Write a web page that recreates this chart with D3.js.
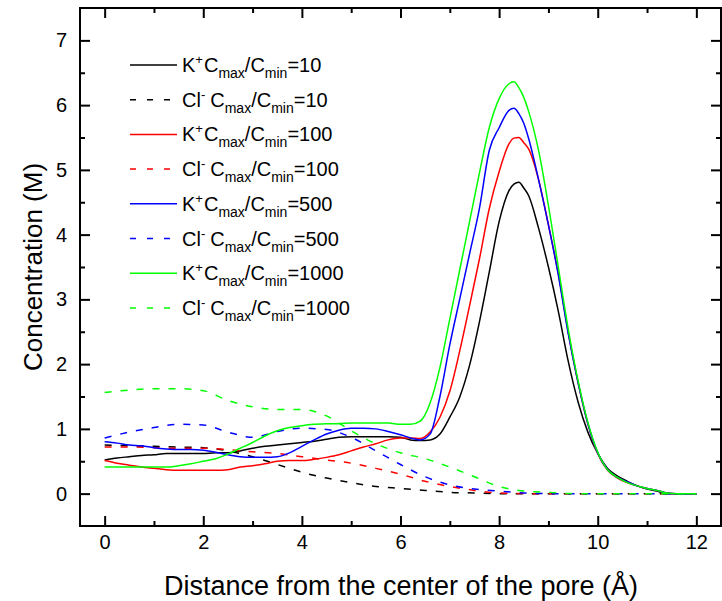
<!DOCTYPE html>
<html><head><meta charset="utf-8">
<script src="https://cdn.jsdelivr.net/npm/d3@7"></script>
<style>body{margin:0;background:#fff} svg{font-family:"Liberation Sans",Arial,sans-serif;display:block}</style>
</head><body><svg id="c" width="722" height="601"></svg>
<script>
// ---- data ----
const xK = [0,0.25,0.5,0.75,1,1.25,1.5,1.75,2,2.25,2.5,2.75,3,3.25,3.5,3.75,4,4.25,4.5,4.75,5,5.25,5.5,5.75,6,6.2,6.4,6.6,6.8,7.0,7.2,7.4,7.6,7.8,8.0,8.2,8.3,8.4,8.5,8.6,8.8,9.0,9.2,9.4,9.6,9.8,10.0,10.2,10.4,10.6,10.8,11.0,11.2,11.4,11.6,11.8,12.0];
const yK10 = [0.52,0.55,0.57,0.59,0.60,0.62,0.62,0.62,0.62,0.63,0.63,0.66,0.70,0.73,0.75,0.77,0.79,0.81,0.84,0.87,0.88,0.88,0.88,0.88,0.87,0.83,0.82,0.83,0.92,1.18,1.49,1.98,2.65,3.42,4.20,4.68,4.78,4.81,4.72,4.60,4.10,3.50,2.82,2.05,1.42,0.95,0.62,0.39,0.27,0.19,0.12,0.07,0.04,0.00,0,0,0];
const yK100 = [0.51,0.47,0.44,0.41,0.39,0.37,0.36,0.36,0.36,0.36,0.37,0.41,0.43,0.46,0.50,0.51,0.51,0.53,0.56,0.60,0.66,0.72,0.77,0.83,0.86,0.86,0.85,0.95,1.18,1.58,2.20,2.90,3.62,4.40,4.97,5.40,5.49,5.50,5.42,5.32,4.85,4.15,3.40,2.50,1.72,1.08,0.62,0.36,0.24,0.17,0.12,0.08,0.05,0.01,0,0,0];
const yK500 = [0.80,0.78,0.75,0.74,0.71,0.69,0.68,0.68,0.67,0.64,0.60,0.57,0.56,0.56,0.57,0.63,0.73,0.83,0.92,0.98,1.01,1.01,1.00,0.96,0.91,0.86,0.83,0.92,1.50,2.30,3.00,3.70,4.40,5.30,5.65,5.92,5.95,5.87,5.72,5.48,4.85,4.15,3.38,2.48,1.72,1.08,0.63,0.37,0.25,0.18,0.12,0.08,0.05,0.01,0,0,0];
const yK1000 = [0.41,0.41,0.41,0.41,0.41,0.41,0.43,0.46,0.50,0.54,0.61,0.70,0.79,0.89,0.97,1.02,1.05,1.07,1.08,1.08,1.09,1.09,1.09,1.09,1.07,1.07,1.12,1.40,1.95,2.70,3.45,4.20,4.95,5.65,6.10,6.33,6.36,6.27,6.12,5.90,5.30,4.45,3.50,2.55,1.75,1.10,0.64,0.37,0.25,0.17,0.12,0.08,0.05,0.01,0,0,0];

const xCl = [0,0.5,1,1.5,2,2.5,3,3.5,4,4.5,5,5.5,6,6.5,7,7.5,8,8.5,9,9.5,10,10.5,11,11.5,12];
const yCl10 = [0.75,0.74,0.73,0.72,0.71,0.66,0.57,0.45,0.33,0.24,0.17,0.11,0.08,0.05,0.02,0.01,0,0,0,0,0,0,0,0,0];
const yCl100 = [0.72,0.72,0.71,0.70,0.70,0.68,0.645,0.62,0.57,0.52,0.47,0.39,0.30,0.19,0.11,0.05,0.01,0,0,0,0,0,0,0,0];
const yCl500 = [0.86,0.95,1.02,1.07,1.06,0.95,0.87,0.96,1.01,0.99,0.87,0.66,0.45,0.26,0.135,0.07,0.04,0.01,0,0,0,0,0,0,0];
const yCl1000 = [1.56,1.60,1.62,1.62,1.59,1.44,1.34,1.30,1.30,1.20,0.97,0.77,0.63,0.54,0.41,0.26,0.11,0.04,0.02,0,0,0,0,0,0];

const seriesNames = ["K10","Cl10","K100","Cl100","K500","Cl500","K1000","Cl1000"];
const ratios = ["10","10","100","100","500","500","1000","1000"];
const ions = ["K","Cl","K","Cl","K","Cl","K","Cl"];
const colors = ["#000000","#000000","#ff0000","#ff0000","#0000ff","#0000ff","#00ff00","#00ff00"];
const xTicks = [0,2,4,6,8,10,12];
const yTicks = [0,1,2,3,4,5,6,7];

// ---- chart ----
const svg = d3.select("#c");
const L=80,R=721,T=8,B=526;
const x = d3.scaleLinear().domain([-0.5,12.5]).range([L,R]);
const y = d3.scaleLinear().domain([-0.5,7.5]).range([B,T]);

svg.append("defs").append("clipPath").attr("id","clip")
  .append("rect").attr("x",L).attr("y",T).attr("width",R-L).attr("height",B-T);

const data = [
  {x:xK,y:yK10},{x:xCl,y:yCl10},{x:xK,y:yK100},{x:xCl,y:yCl100},
  {x:xK,y:yK500},{x:xCl,y:yCl500},{x:xK,y:yK1000},{x:xCl,y:yCl1000}
];
const lineSm = d3.line().x(d=>x(d[0])).y(d=>y(d[1])).curve(d3.curveMonotoneX);
const g = svg.append("g").attr("clip-path","url(#clip)");
data.forEach((s,i)=>{
  const pts = s.x.map((v,j)=>[v,s.y[j]]);
  const isCl = ions[i]==="Cl";
  g.append("path").attr("d",lineSm(pts))
    .attr("fill","none").attr("stroke",colors[i]).attr("stroke-width",1.5)
    .attr("stroke-dasharray",isCl?"7,9":null);
});

// axes
function styleAx(sel){ sel.select(".domain").remove(); sel.selectAll("line").attr("stroke","#000").attr("stroke-width",2); sel.selectAll("text").attr("font-size",20).attr("fill","#000").attr("font-family","'Liberation Sans',Arial,sans-serif"); }
const minorX = d3.range(1,12,2), minorY = d3.range(0.5,7.5,1);
svg.append("g").attr("transform",`translate(0,${B})`).call(d3.axisBottom(x).tickValues(xTicks).tickFormat(d3.format("d")).tickSize(-10).tickPadding(9)).call(styleAx);
svg.append("g").attr("transform",`translate(0,${B})`).call(d3.axisBottom(x).tickValues(minorX).tickFormat("").tickSize(-5)).call(styleAx);
svg.append("g").attr("transform",`translate(0,${T})`).call(d3.axisTop(x).tickValues(xTicks).tickFormat("").tickSize(-10)).call(styleAx);
svg.append("g").attr("transform",`translate(0,${T})`).call(d3.axisTop(x).tickValues(minorX).tickFormat("").tickSize(-5)).call(styleAx);
svg.append("g").attr("transform",`translate(${L},0)`).call(d3.axisLeft(y).tickValues(yTicks).tickFormat(d3.format("d")).tickSize(-10).tickPadding(13)).call(styleAx);
svg.append("g").attr("transform",`translate(${L},0)`).call(d3.axisLeft(y).tickValues(minorY).tickFormat("").tickSize(-5)).call(styleAx);
svg.append("g").attr("transform",`translate(${R},0)`).call(d3.axisRight(y).tickValues(yTicks).tickFormat("").tickSize(-10)).call(styleAx);
svg.append("g").attr("transform",`translate(${R},0)`).call(d3.axisRight(y).tickValues(minorY).tickFormat("").tickSize(-5)).call(styleAx);

svg.append("rect").attr("x",L).attr("y",T).attr("width",R-L).attr("height",B-T)
  .attr("fill","none").attr("stroke","#000").attr("stroke-width",2);

// titles
svg.append("text").attr("x",401).attr("y",595).attr("text-anchor","middle")
  .attr("font-size",27).text("Distance from the center of the pore (Å)");
svg.append("text").attr("transform",`translate(42,${(T+B)/2}) rotate(-90)`).attr("text-anchor","middle")
  .attr("font-size",26).text("Concentration (M)");

// legend
const leg = svg.append("g");
seriesNames.forEach((nm,i)=>{
  const yy = 65 + i*34.7;
  leg.append("line").attr("x1",130).attr("x2",177).attr("y1",yy).attr("y2",yy)
    .attr("stroke",colors[i]).attr("stroke-width",1.5)
    .attr("stroke-dasharray",ions[i]==="Cl"?"6,11":null);
  const t = leg.append("text").attr("x",182).attr("y",yy+7).attr("font-size",20).attr("fill","#000");
  if(ions[i]==="K"){
    t.append("tspan").text("K");
    t.append("tspan").attr("font-size",13).attr("dy",-8).text("+");
    t.append("tspan").attr("dy",8).attr("dx",1).text("C");
  } else {
    t.append("tspan").text("Cl");
    t.append("tspan").attr("font-size",13).attr("dy",-8).text("-");
    t.append("tspan").attr("dy",8).attr("dx",5).text("C");
  }
  t.append("tspan").attr("font-size",14).attr("dy",6).text("max");
  t.append("tspan").attr("dy",-6).text("/C");
  t.append("tspan").attr("font-size",14).attr("dy",6).text("min");
  t.append("tspan").attr("dy",-6).text("=" + ratios[i]);
});
</script></body></html>
